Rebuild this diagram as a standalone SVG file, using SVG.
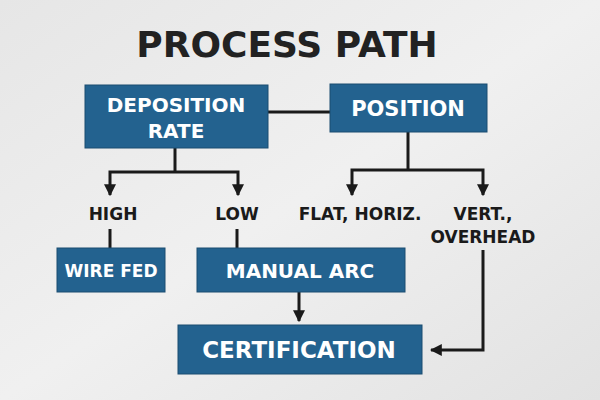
<svg xmlns="http://www.w3.org/2000/svg" width="600" height="400" viewBox="0 0 600 400">
<defs>
<style>
.box{fill:#23628f;stroke:#1b4c70;stroke-width:1}
.bt{fill:#fff;font-family:"DejaVu Sans",sans-serif;font-weight:bold;text-anchor:middle}
.lb{fill:#1a1a1a;font-family:"DejaVu Sans",sans-serif;font-weight:bold;font-size:17px;text-anchor:middle}
.ln{stroke:#1a1a1a;stroke-width:3;fill:none}
</style>
<marker id="ah" viewBox="0 0 10 10" refX="9" refY="5" markerWidth="4" markerHeight="4" orient="auto-start-reverse"><path d="M0,0L10,5L0,10z" fill="#1a1a1a"/></marker>
<linearGradient id="bg" x1="0" y1="0" x2="1" y2="1"><stop offset="0" stop-color="#e6e6e6"/><stop offset="0.5" stop-color="#f0f0f0"/><stop offset="1" stop-color="#e2e2e2"/></linearGradient>
</defs>
<rect width="600" height="400" fill="url(#bg)"/>
<text x="287" y="57" font-family="DejaVu Sans,sans-serif" font-weight="bold" font-size="36" text-anchor="middle" fill="#222">PROCESS PATH</text>
<g id="connectors">
<line class="ln" x1="268" y1="112" x2="330" y2="112"/>
<polyline class="ln" points="175,148 175,172"/>
<polyline class="ln" points="110,195 110,172 238,172 238,195" marker-start="url(#ah)" marker-end="url(#ah)"/>
<polyline class="ln" points="408,132 408,170"/>
<polyline class="ln" points="352,195 352,170 483,170 483,195" marker-start="url(#ah)" marker-end="url(#ah)"/>
<line class="ln" x1="110" y1="229" x2="110" y2="248"/>
<line class="ln" x1="237" y1="229" x2="237" y2="248"/>
<line class="ln" x1="299" y1="292" x2="299" y2="321" marker-end="url(#ah)"/>
<polyline class="ln" points="483,250 483,350 431,350" marker-end="url(#ah)"/>
</g>
<g id="deposition"><rect class="box" x="85" y="85" width="183" height="63"/><text class="bt" font-size="20" x="176" y="112">DEPOSITION</text><text class="bt" font-size="20" x="176" y="138">RATE</text></g>
<g id="position"><rect class="box" x="330" y="84" width="157" height="48"/><text class="bt" font-size="21" x="408" y="116">POSITION</text></g>
<g id="high"><text class="lb" x="113" y="220">HIGH</text></g>
<g id="low"><text class="lb" x="237" y="220">LOW</text></g>
<g id="flat"><text class="lb" x="360" y="220">FLAT, HORIZ.</text></g>
<g id="vert"><text class="lb" x="483" y="220">VERT.,</text><text class="lb" x="483" y="243">OVERHEAD</text></g>
<g id="wirefed"><rect class="box" x="57" y="248" width="108" height="44"/><text class="bt" font-size="17" x="111" y="277">WIRE FED</text></g>
<g id="manualarc"><rect class="box" x="197" y="248" width="208" height="44"/><text class="bt" font-size="20" x="300" y="278">MANUAL ARC</text></g>
<g id="certification"><rect class="box" x="178" y="325" width="244" height="49"/><text class="bt" font-size="23" x="299" y="358">CERTIFICATION</text></g>
</svg>
